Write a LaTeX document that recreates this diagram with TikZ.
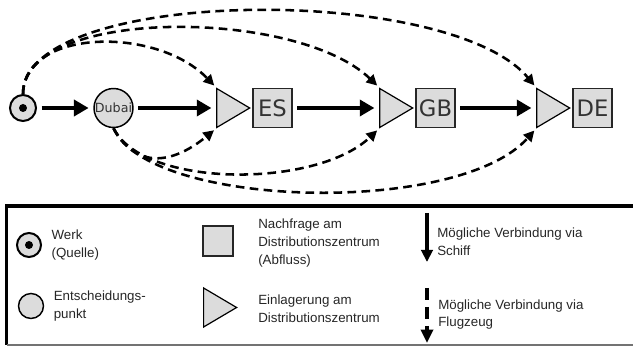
\documentclass[tikz,border=0pt]{standalone}
\usepackage{fontspec}
\setmainfont{Liberation Sans}
\newfontfamily\dejavu{DejaVu Sans}
\usepackage{tikz}
\usetikzlibrary{arrows.meta}
\usetikzlibrary{positioning, shapes.geometric}

\definecolor{boxgray}{HTML}{DCDCDC}

\begin{document}
\begin{tikzpicture}[x=0.75pt, y=0.75pt,
        every node/.style={inner sep=0pt},
        knot/.style={circle, draw=black, line width=1.1pt, fill=boxgray},
        werk/.style={knot, line width=1.5pt,
            path picture={\fill[black] (path picture bounding box.center) circle (3pt);}},
        demand/.style={rectangle, draw=black!85, line width=1.1pt, fill=boxgray,
            minimum size=29.25pt, text=black!80, font=\dejavu\fontsize{17}{20}\selectfont},
        store/.style={isosceles triangle, isosceles triangle stretches, draw=black,
            line width=0.9pt, fill=boxgray, minimum width=29.25pt, minimum height=24.75pt},
        ship/.style={line width=3.4pt, -{Triangle[length=11pt, width=12pt]},
            shorten <=3.5pt, shorten >=3.5pt},
        plane/.style={line width=1.9pt, dash pattern=on 6.5pt off 4pt,
            -{Triangle[length=8pt, width=8pt]}, shorten >=2pt},
        legtext/.style={align=left, text=black!85, font=\fontsize{10}{13.3}\selectfont}]

    \useasboundingbox (0,-241) rectangle (633,108);

    \node[werk, minimum size=19.5pt] (werk) at (23,0) {};
    \node[knot, minimum size=29.25pt, text=black!80,
        font=\dejavu\fontsize{9.5}{10}\selectfont] (dubai) at (113.5,0) {Dubai};
    \node[demand] (sES) at (272.5,0) {ES};
    \node[store, left=0.75pt of sES] (tES) {};
    \node[demand] (sGB) at (435.5,0) {GB};
    \node[store, left=0.75pt of sGB] (tGB) {};
    \node[demand] (sDE) at (592.5,0) {DE};
    \node[store, left=0.75pt of sDE] (tDE) {};

    \draw[ship] (werk) -- (dubai);
    \draw[ship] (dubai) -- (tES);
    \draw[ship] (sES) -- (tGB);
    \draw[ship] (sGB) -- (tDE);

    \draw[plane] (werk.north) .. controls +(0,65) and +(-60,62) .. (tES.left corner);
    \draw[plane] (werk.north) .. controls +(0,87) and +(-83,80) .. (tGB.left corner);
    \draw[plane] (werk.north) .. controls +(0,107) and +(-88,105) .. (tDE.left corner);
    \draw[plane] (dubai.south) .. controls +(25,-45) and +(-39,-32) .. (tES.right corner);
    \draw[plane] (dubai.south) .. controls +(30,-60) and +(-63,-60) .. (tGB.right corner);
    \draw[plane] (dubai.south) .. controls +(35,-80) and +(-78,-88) .. (tDE.right corner);

    \draw[line width=2.6pt] (640,-98) -- (6.5,-98) -- (6.5,-237);
    \draw[black!55, line width=0.8pt] (6.5,-237) -- (640,-237);

    \node[werk, minimum size=18pt] (lWerk) at (29,-137) {};
    \node[legtext, right=7pt of lWerk] (txWerk) {Werk\\(Quelle)};
    \node[knot, minimum size=18.75pt] (lPunkt) at (31,-198) {};
    \node[legtext, right=7pt of lPunkt] (txPunkt) {Entscheidungs-\\punkt};
    \node[demand, minimum size=22.5pt] (lDemand) at (218,-133) {};
    \node[legtext, anchor=west] (txDemand) at (258,-135)
        {Nachfrage am\\Distributionszentrum\\(Abfluss)};
    \node[store, anchor=west] (lStore) at (203,-199.5) {};
    \node[legtext, anchor=west] (txStore) at (258,-201)
        {Einlagerung am\\Distributionszentrum};

    \coordinate (shipTop) at (427,-105);
    \coordinate (shipEnd) at (427,-154);
    \draw[line width=3pt, -{Triangle[length=9pt, width=8.5pt]}] (shipTop) -- (shipEnd);
    \node[legtext, anchor=west] (txShip) at (437,-134) {Mögliche Verbindung via\\Schiff};
    \coordinate (planeTop) at (427,-180);
    \coordinate (planeEnd) at (427,-235);
    \draw[line width=2.8pt, dash pattern=on 9pt off 5.25pt,
        -{Triangle[length=10pt, width=9pt]}] (planeTop) -- (planeEnd);
    \node[legtext, anchor=west] (txPlane) at (438,-206.5) {Mögliche Verbindung via\\Flugzeug};
\end{tikzpicture}
\end{document}
